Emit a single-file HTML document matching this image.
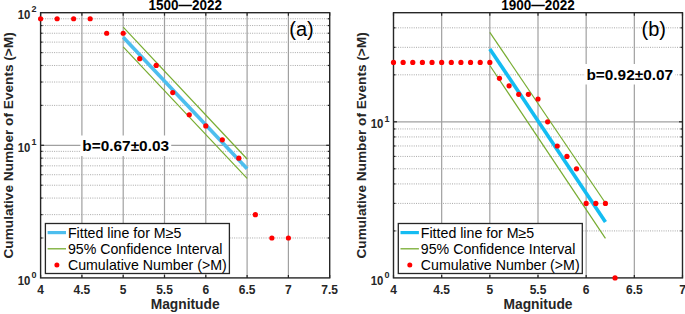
<!DOCTYPE html>
<html><head><meta charset="utf-8"><style>
html,body{margin:0;padding:0;background:#fff;}
body{width:685px;height:314px;overflow:hidden;}
svg{display:block;}
text{font-family:"Liberation Sans",sans-serif;fill:#000;}
.tk{font-size:12px;font-weight:bold;fill:#262626;}
.sup{font-size:9px;font-weight:bold;fill:#262626;}
.tk10{font-size:12px;font-weight:bold;fill:#262626;}
.axl{font-size:13.8px;font-weight:bold;fill:#262626;}
.yl{font-size:13.65px;font-weight:bold;fill:#262626;}
.ttl{font-size:13.5px;font-weight:bold;}
.b{font-size:15.4px;font-weight:bold;}
.leg{font-size:14.2px;}
.let{font-size:20px;}
</style></head><body>
<svg width="685" height="314" viewBox="0 0 685 314">
<rect width="685" height="314" fill="#fff"/>
<line x1="40.60" y1="237.98" x2="329.70" y2="237.98" stroke="#a8a8a8" stroke-width="1" stroke-dasharray="1 1.25"/>
<line x1="40.60" y1="214.63" x2="329.70" y2="214.63" stroke="#a8a8a8" stroke-width="1" stroke-dasharray="1 1.25"/>
<line x1="40.60" y1="198.07" x2="329.70" y2="198.07" stroke="#a8a8a8" stroke-width="1" stroke-dasharray="1 1.25"/>
<line x1="40.60" y1="185.22" x2="329.70" y2="185.22" stroke="#a8a8a8" stroke-width="1" stroke-dasharray="1 1.25"/>
<line x1="40.60" y1="174.72" x2="329.70" y2="174.72" stroke="#a8a8a8" stroke-width="1" stroke-dasharray="1 1.25"/>
<line x1="40.60" y1="165.84" x2="329.70" y2="165.84" stroke="#a8a8a8" stroke-width="1" stroke-dasharray="1 1.25"/>
<line x1="40.60" y1="158.15" x2="329.70" y2="158.15" stroke="#a8a8a8" stroke-width="1" stroke-dasharray="1 1.25"/>
<line x1="40.60" y1="151.37" x2="329.70" y2="151.37" stroke="#a8a8a8" stroke-width="1" stroke-dasharray="1 1.25"/>
<line x1="40.60" y1="105.38" x2="329.70" y2="105.38" stroke="#a8a8a8" stroke-width="1" stroke-dasharray="1 1.25"/>
<line x1="40.60" y1="82.03" x2="329.70" y2="82.03" stroke="#a8a8a8" stroke-width="1" stroke-dasharray="1 1.25"/>
<line x1="40.60" y1="65.47" x2="329.70" y2="65.47" stroke="#a8a8a8" stroke-width="1" stroke-dasharray="1 1.25"/>
<line x1="40.60" y1="52.62" x2="329.70" y2="52.62" stroke="#a8a8a8" stroke-width="1" stroke-dasharray="1 1.25"/>
<line x1="40.60" y1="42.12" x2="329.70" y2="42.12" stroke="#a8a8a8" stroke-width="1" stroke-dasharray="1 1.25"/>
<line x1="40.60" y1="33.24" x2="329.70" y2="33.24" stroke="#a8a8a8" stroke-width="1" stroke-dasharray="1 1.25"/>
<line x1="40.60" y1="25.55" x2="329.70" y2="25.55" stroke="#a8a8a8" stroke-width="1" stroke-dasharray="1 1.25"/>
<line x1="40.60" y1="18.77" x2="329.70" y2="18.77" stroke="#a8a8a8" stroke-width="1" stroke-dasharray="1 1.25"/>
<line x1="40.60" y1="145.30" x2="329.70" y2="145.30" stroke="#a0a0a0" stroke-width="1.2" />
<line x1="81.90" y1="12.70" x2="81.90" y2="277.90" stroke="#a0a0a0" stroke-width="1.2" />
<line x1="123.20" y1="12.70" x2="123.20" y2="277.90" stroke="#a0a0a0" stroke-width="1.2" />
<line x1="164.50" y1="12.70" x2="164.50" y2="277.90" stroke="#a0a0a0" stroke-width="1.2" />
<line x1="205.80" y1="12.70" x2="205.80" y2="277.90" stroke="#a0a0a0" stroke-width="1.2" />
<line x1="247.10" y1="12.70" x2="247.10" y2="277.90" stroke="#a0a0a0" stroke-width="1.2" />
<line x1="288.40" y1="12.70" x2="288.40" y2="277.90" stroke="#a0a0a0" stroke-width="1.2" />
<line x1="40.60" y1="277.90" x2="40.60" y2="274.90" stroke="#262626" stroke-width="1.2" />
<line x1="40.60" y1="12.70" x2="40.60" y2="15.70" stroke="#262626" stroke-width="1.2" />
<line x1="81.90" y1="277.90" x2="81.90" y2="274.90" stroke="#262626" stroke-width="1.2" />
<line x1="81.90" y1="12.70" x2="81.90" y2="15.70" stroke="#262626" stroke-width="1.2" />
<line x1="123.20" y1="277.90" x2="123.20" y2="274.90" stroke="#262626" stroke-width="1.2" />
<line x1="123.20" y1="12.70" x2="123.20" y2="15.70" stroke="#262626" stroke-width="1.2" />
<line x1="164.50" y1="277.90" x2="164.50" y2="274.90" stroke="#262626" stroke-width="1.2" />
<line x1="164.50" y1="12.70" x2="164.50" y2="15.70" stroke="#262626" stroke-width="1.2" />
<line x1="205.80" y1="277.90" x2="205.80" y2="274.90" stroke="#262626" stroke-width="1.2" />
<line x1="205.80" y1="12.70" x2="205.80" y2="15.70" stroke="#262626" stroke-width="1.2" />
<line x1="247.10" y1="277.90" x2="247.10" y2="274.90" stroke="#262626" stroke-width="1.2" />
<line x1="247.10" y1="12.70" x2="247.10" y2="15.70" stroke="#262626" stroke-width="1.2" />
<line x1="288.40" y1="277.90" x2="288.40" y2="274.90" stroke="#262626" stroke-width="1.2" />
<line x1="288.40" y1="12.70" x2="288.40" y2="15.70" stroke="#262626" stroke-width="1.2" />
<line x1="329.70" y1="277.90" x2="329.70" y2="274.90" stroke="#262626" stroke-width="1.2" />
<line x1="329.70" y1="12.70" x2="329.70" y2="15.70" stroke="#262626" stroke-width="1.2" />
<line x1="40.60" y1="237.98" x2="42.60" y2="237.98" stroke="#262626" stroke-width="1.2" />
<line x1="329.70" y1="237.98" x2="327.70" y2="237.98" stroke="#262626" stroke-width="1.2" />
<line x1="40.60" y1="214.63" x2="42.60" y2="214.63" stroke="#262626" stroke-width="1.2" />
<line x1="329.70" y1="214.63" x2="327.70" y2="214.63" stroke="#262626" stroke-width="1.2" />
<line x1="40.60" y1="198.07" x2="42.60" y2="198.07" stroke="#262626" stroke-width="1.2" />
<line x1="329.70" y1="198.07" x2="327.70" y2="198.07" stroke="#262626" stroke-width="1.2" />
<line x1="40.60" y1="185.22" x2="42.60" y2="185.22" stroke="#262626" stroke-width="1.2" />
<line x1="329.70" y1="185.22" x2="327.70" y2="185.22" stroke="#262626" stroke-width="1.2" />
<line x1="40.60" y1="174.72" x2="42.60" y2="174.72" stroke="#262626" stroke-width="1.2" />
<line x1="329.70" y1="174.72" x2="327.70" y2="174.72" stroke="#262626" stroke-width="1.2" />
<line x1="40.60" y1="165.84" x2="42.60" y2="165.84" stroke="#262626" stroke-width="1.2" />
<line x1="329.70" y1="165.84" x2="327.70" y2="165.84" stroke="#262626" stroke-width="1.2" />
<line x1="40.60" y1="158.15" x2="42.60" y2="158.15" stroke="#262626" stroke-width="1.2" />
<line x1="329.70" y1="158.15" x2="327.70" y2="158.15" stroke="#262626" stroke-width="1.2" />
<line x1="40.60" y1="151.37" x2="42.60" y2="151.37" stroke="#262626" stroke-width="1.2" />
<line x1="329.70" y1="151.37" x2="327.70" y2="151.37" stroke="#262626" stroke-width="1.2" />
<line x1="40.60" y1="145.30" x2="44.10" y2="145.30" stroke="#262626" stroke-width="1.2" />
<line x1="329.70" y1="145.30" x2="326.20" y2="145.30" stroke="#262626" stroke-width="1.2" />
<line x1="40.60" y1="105.38" x2="42.60" y2="105.38" stroke="#262626" stroke-width="1.2" />
<line x1="329.70" y1="105.38" x2="327.70" y2="105.38" stroke="#262626" stroke-width="1.2" />
<line x1="40.60" y1="82.03" x2="42.60" y2="82.03" stroke="#262626" stroke-width="1.2" />
<line x1="329.70" y1="82.03" x2="327.70" y2="82.03" stroke="#262626" stroke-width="1.2" />
<line x1="40.60" y1="65.47" x2="42.60" y2="65.47" stroke="#262626" stroke-width="1.2" />
<line x1="329.70" y1="65.47" x2="327.70" y2="65.47" stroke="#262626" stroke-width="1.2" />
<line x1="40.60" y1="52.62" x2="42.60" y2="52.62" stroke="#262626" stroke-width="1.2" />
<line x1="329.70" y1="52.62" x2="327.70" y2="52.62" stroke="#262626" stroke-width="1.2" />
<line x1="40.60" y1="42.12" x2="42.60" y2="42.12" stroke="#262626" stroke-width="1.2" />
<line x1="329.70" y1="42.12" x2="327.70" y2="42.12" stroke="#262626" stroke-width="1.2" />
<line x1="40.60" y1="33.24" x2="42.60" y2="33.24" stroke="#262626" stroke-width="1.2" />
<line x1="329.70" y1="33.24" x2="327.70" y2="33.24" stroke="#262626" stroke-width="1.2" />
<line x1="40.60" y1="25.55" x2="42.60" y2="25.55" stroke="#262626" stroke-width="1.2" />
<line x1="329.70" y1="25.55" x2="327.70" y2="25.55" stroke="#262626" stroke-width="1.2" />
<line x1="40.60" y1="18.77" x2="42.60" y2="18.77" stroke="#262626" stroke-width="1.2" />
<line x1="329.70" y1="18.77" x2="327.70" y2="18.77" stroke="#262626" stroke-width="1.2" />
<rect x="80.4" y="135.5" width="90.8" height="20.5" fill="#fff"/>
<text x="82.30" y="150.90" class="b" text-anchor="start" >b=0.67±0.03</text>
<line x1="123.20" y1="27.10" x2="247.10" y2="159.00" stroke="#77AC30" stroke-width="1.2"/>
<line x1="123.20" y1="46.80" x2="247.10" y2="178.30" stroke="#77AC30" stroke-width="1.2"/>
<line x1="123.20" y1="37.30" x2="247.10" y2="168.80" stroke="#4DBEEE" stroke-width="3.6"/>
<rect x="40.60" y="12.70" width="289.10" height="265.20" fill="none" stroke="#262626" stroke-width="1.4"/>
<circle cx="40.60" cy="18.77" r="2.6" fill="#ff0000"/>
<circle cx="57.12" cy="18.77" r="2.6" fill="#ff0000"/>
<circle cx="73.64" cy="18.77" r="2.6" fill="#ff0000"/>
<circle cx="90.16" cy="18.77" r="2.6" fill="#ff0000"/>
<circle cx="106.68" cy="33.24" r="2.6" fill="#ff0000"/>
<circle cx="123.20" cy="33.24" r="2.6" fill="#ff0000"/>
<circle cx="139.72" cy="58.68" r="2.6" fill="#ff0000"/>
<circle cx="156.24" cy="65.47" r="2.6" fill="#ff0000"/>
<circle cx="172.76" cy="92.53" r="2.6" fill="#ff0000"/>
<circle cx="189.28" cy="114.74" r="2.6" fill="#ff0000"/>
<circle cx="205.80" cy="125.92" r="2.6" fill="#ff0000"/>
<circle cx="222.32" cy="139.81" r="2.6" fill="#ff0000"/>
<circle cx="238.84" cy="158.15" r="2.6" fill="#ff0000"/>
<circle cx="255.36" cy="214.63" r="2.6" fill="#ff0000"/>
<circle cx="271.88" cy="237.98" r="2.6" fill="#ff0000"/>
<circle cx="288.40" cy="237.98" r="2.6" fill="#ff0000"/>
<text x="289.30" y="36.20" class="let" text-anchor="start" >(a)</text>
<text x="0" y="0" class="ttl" text-anchor="middle" transform="translate(185.15 9.5) scale(1 1.12)">1500—2022</text>
<text x="40.60" y="293.60" class="tk" text-anchor="middle" >4</text>
<text x="81.90" y="293.60" class="tk" text-anchor="middle" >4.5</text>
<text x="123.20" y="293.60" class="tk" text-anchor="middle" >5</text>
<text x="164.50" y="293.60" class="tk" text-anchor="middle" >5.5</text>
<text x="205.80" y="293.60" class="tk" text-anchor="middle" >6</text>
<text x="247.10" y="293.60" class="tk" text-anchor="middle" >6.5</text>
<text x="288.40" y="293.60" class="tk" text-anchor="middle" >7</text>
<text x="329.70" y="293.60" class="tk" text-anchor="middle" >7.5</text>
<text x="185.15" y="309.20" class="axl" text-anchor="middle" >Magnitude</text>
<text x="13.40" y="145.40" class="yl" text-anchor="middle" transform="rotate(-90 13.40 145.40)">Cumulative Number of Events (&gt;M)</text>
<text x="17.80" y="19.30" class="tk10" textLength="12.6" lengthAdjust="spacingAndGlyphs">10</text>
<text x="31.60" y="12.40" class="sup">2</text>
<text x="17.80" y="151.90" class="tk10" textLength="12.6" lengthAdjust="spacingAndGlyphs">10</text>
<text x="31.60" y="145.00" class="sup">1</text>
<text x="17.80" y="284.50" class="tk10" textLength="12.6" lengthAdjust="spacingAndGlyphs">10</text>
<text x="31.60" y="277.60" class="sup">0</text>
<rect x="45.40" y="223.50" width="184" height="50" fill="#fff" stroke="#262626" stroke-width="1.3"/>
<line x1="47.60" y1="232.60" x2="66.00" y2="232.60" stroke="#4DBEEE" stroke-width="3.2" />
<line x1="47.60" y1="248.80" x2="66.00" y2="248.80" stroke="#77AC30" stroke-width="1.3" />
<circle cx="56.90" cy="264.90" r="2.5" fill="#ff0000"/>
<text x="67.90" y="237.60" class="leg" text-anchor="start" >Fitted line for M≥5</text>
<text x="67.90" y="253.80" class="leg" text-anchor="start" >95% Confidence Interval</text>
<text x="67.90" y="269.90" class="leg" text-anchor="start" >Cumulative Number (&gt;M)</text>
<line x1="393.50" y1="230.91" x2="682.49" y2="230.91" stroke="#a8a8a8" stroke-width="1" stroke-dasharray="1 1.25"/>
<line x1="393.50" y1="203.42" x2="682.49" y2="203.42" stroke="#a8a8a8" stroke-width="1" stroke-dasharray="1 1.25"/>
<line x1="393.50" y1="183.92" x2="682.49" y2="183.92" stroke="#a8a8a8" stroke-width="1" stroke-dasharray="1 1.25"/>
<line x1="393.50" y1="168.79" x2="682.49" y2="168.79" stroke="#a8a8a8" stroke-width="1" stroke-dasharray="1 1.25"/>
<line x1="393.50" y1="156.43" x2="682.49" y2="156.43" stroke="#a8a8a8" stroke-width="1" stroke-dasharray="1 1.25"/>
<line x1="393.50" y1="145.98" x2="682.49" y2="145.98" stroke="#a8a8a8" stroke-width="1" stroke-dasharray="1 1.25"/>
<line x1="393.50" y1="136.93" x2="682.49" y2="136.93" stroke="#a8a8a8" stroke-width="1" stroke-dasharray="1 1.25"/>
<line x1="393.50" y1="128.95" x2="682.49" y2="128.95" stroke="#a8a8a8" stroke-width="1" stroke-dasharray="1 1.25"/>
<line x1="393.50" y1="74.82" x2="682.49" y2="74.82" stroke="#a8a8a8" stroke-width="1" stroke-dasharray="1 1.25"/>
<line x1="393.50" y1="47.33" x2="682.49" y2="47.33" stroke="#a8a8a8" stroke-width="1" stroke-dasharray="1 1.25"/>
<line x1="393.50" y1="27.83" x2="682.49" y2="27.83" stroke="#a8a8a8" stroke-width="1" stroke-dasharray="1 1.25"/>
<line x1="393.50" y1="121.81" x2="682.49" y2="121.81" stroke="#a0a0a0" stroke-width="1.2" />
<line x1="441.67" y1="12.70" x2="441.67" y2="277.90" stroke="#a0a0a0" stroke-width="1.2" />
<line x1="489.83" y1="12.70" x2="489.83" y2="277.90" stroke="#a0a0a0" stroke-width="1.2" />
<line x1="538.00" y1="12.70" x2="538.00" y2="277.90" stroke="#a0a0a0" stroke-width="1.2" />
<line x1="586.16" y1="12.70" x2="586.16" y2="277.90" stroke="#a0a0a0" stroke-width="1.2" />
<line x1="634.33" y1="12.70" x2="634.33" y2="277.90" stroke="#a0a0a0" stroke-width="1.2" />
<line x1="393.50" y1="277.90" x2="393.50" y2="274.90" stroke="#262626" stroke-width="1.2" />
<line x1="393.50" y1="12.70" x2="393.50" y2="15.70" stroke="#262626" stroke-width="1.2" />
<line x1="441.67" y1="277.90" x2="441.67" y2="274.90" stroke="#262626" stroke-width="1.2" />
<line x1="441.67" y1="12.70" x2="441.67" y2="15.70" stroke="#262626" stroke-width="1.2" />
<line x1="489.83" y1="277.90" x2="489.83" y2="274.90" stroke="#262626" stroke-width="1.2" />
<line x1="489.83" y1="12.70" x2="489.83" y2="15.70" stroke="#262626" stroke-width="1.2" />
<line x1="538.00" y1="277.90" x2="538.00" y2="274.90" stroke="#262626" stroke-width="1.2" />
<line x1="538.00" y1="12.70" x2="538.00" y2="15.70" stroke="#262626" stroke-width="1.2" />
<line x1="586.16" y1="277.90" x2="586.16" y2="274.90" stroke="#262626" stroke-width="1.2" />
<line x1="586.16" y1="12.70" x2="586.16" y2="15.70" stroke="#262626" stroke-width="1.2" />
<line x1="634.33" y1="277.90" x2="634.33" y2="274.90" stroke="#262626" stroke-width="1.2" />
<line x1="634.33" y1="12.70" x2="634.33" y2="15.70" stroke="#262626" stroke-width="1.2" />
<line x1="682.49" y1="277.90" x2="682.49" y2="274.90" stroke="#262626" stroke-width="1.2" />
<line x1="682.49" y1="12.70" x2="682.49" y2="15.70" stroke="#262626" stroke-width="1.2" />
<line x1="393.50" y1="230.91" x2="395.50" y2="230.91" stroke="#262626" stroke-width="1.2" />
<line x1="682.49" y1="230.91" x2="680.49" y2="230.91" stroke="#262626" stroke-width="1.2" />
<line x1="393.50" y1="203.42" x2="395.50" y2="203.42" stroke="#262626" stroke-width="1.2" />
<line x1="682.49" y1="203.42" x2="680.49" y2="203.42" stroke="#262626" stroke-width="1.2" />
<line x1="393.50" y1="183.92" x2="395.50" y2="183.92" stroke="#262626" stroke-width="1.2" />
<line x1="682.49" y1="183.92" x2="680.49" y2="183.92" stroke="#262626" stroke-width="1.2" />
<line x1="393.50" y1="168.79" x2="395.50" y2="168.79" stroke="#262626" stroke-width="1.2" />
<line x1="682.49" y1="168.79" x2="680.49" y2="168.79" stroke="#262626" stroke-width="1.2" />
<line x1="393.50" y1="156.43" x2="395.50" y2="156.43" stroke="#262626" stroke-width="1.2" />
<line x1="682.49" y1="156.43" x2="680.49" y2="156.43" stroke="#262626" stroke-width="1.2" />
<line x1="393.50" y1="145.98" x2="395.50" y2="145.98" stroke="#262626" stroke-width="1.2" />
<line x1="682.49" y1="145.98" x2="680.49" y2="145.98" stroke="#262626" stroke-width="1.2" />
<line x1="393.50" y1="136.93" x2="395.50" y2="136.93" stroke="#262626" stroke-width="1.2" />
<line x1="682.49" y1="136.93" x2="680.49" y2="136.93" stroke="#262626" stroke-width="1.2" />
<line x1="393.50" y1="128.95" x2="395.50" y2="128.95" stroke="#262626" stroke-width="1.2" />
<line x1="682.49" y1="128.95" x2="680.49" y2="128.95" stroke="#262626" stroke-width="1.2" />
<line x1="393.50" y1="121.81" x2="397.00" y2="121.81" stroke="#262626" stroke-width="1.2" />
<line x1="682.49" y1="121.81" x2="678.99" y2="121.81" stroke="#262626" stroke-width="1.2" />
<line x1="393.50" y1="74.82" x2="395.50" y2="74.82" stroke="#262626" stroke-width="1.2" />
<line x1="682.49" y1="74.82" x2="680.49" y2="74.82" stroke="#262626" stroke-width="1.2" />
<line x1="393.50" y1="47.33" x2="395.50" y2="47.33" stroke="#262626" stroke-width="1.2" />
<line x1="682.49" y1="47.33" x2="680.49" y2="47.33" stroke="#262626" stroke-width="1.2" />
<line x1="393.50" y1="27.83" x2="395.50" y2="27.83" stroke="#262626" stroke-width="1.2" />
<line x1="682.49" y1="27.83" x2="680.49" y2="27.83" stroke="#262626" stroke-width="1.2" />
<rect x="584.6" y="64" width="90.8" height="20.5" fill="#fff"/>
<text x="586.40" y="80.40" class="b" text-anchor="start" >b=0.92±0.07</text>
<line x1="489.83" y1="32.40" x2="605.43" y2="203.00" stroke="#77AC30" stroke-width="1.2"/>
<line x1="489.83" y1="65.50" x2="605.43" y2="238.40" stroke="#77AC30" stroke-width="1.2"/>
<line x1="489.83" y1="48.90" x2="605.43" y2="221.90" stroke="#14bcf2" stroke-width="3.6"/>
<rect x="393.50" y="12.70" width="288.99" height="265.20" fill="none" stroke="#262626" stroke-width="1.4"/>
<circle cx="393.50" cy="62.46" r="2.6" fill="#ff0000"/>
<circle cx="403.13" cy="62.46" r="2.6" fill="#ff0000"/>
<circle cx="412.77" cy="62.46" r="2.6" fill="#ff0000"/>
<circle cx="422.40" cy="62.46" r="2.6" fill="#ff0000"/>
<circle cx="432.03" cy="62.46" r="2.6" fill="#ff0000"/>
<circle cx="441.67" cy="62.46" r="2.6" fill="#ff0000"/>
<circle cx="451.30" cy="62.46" r="2.6" fill="#ff0000"/>
<circle cx="460.93" cy="62.46" r="2.6" fill="#ff0000"/>
<circle cx="470.56" cy="62.46" r="2.6" fill="#ff0000"/>
<circle cx="480.20" cy="62.46" r="2.6" fill="#ff0000"/>
<circle cx="489.83" cy="62.46" r="2.6" fill="#ff0000"/>
<circle cx="499.46" cy="78.29" r="2.6" fill="#ff0000"/>
<circle cx="509.10" cy="85.83" r="2.6" fill="#ff0000"/>
<circle cx="518.73" cy="94.32" r="2.6" fill="#ff0000"/>
<circle cx="528.36" cy="94.32" r="2.6" fill="#ff0000"/>
<circle cx="538.00" cy="99.00" r="2.6" fill="#ff0000"/>
<circle cx="547.63" cy="121.81" r="2.6" fill="#ff0000"/>
<circle cx="557.26" cy="145.98" r="2.6" fill="#ff0000"/>
<circle cx="566.89" cy="156.43" r="2.6" fill="#ff0000"/>
<circle cx="576.53" cy="168.79" r="2.6" fill="#ff0000"/>
<circle cx="586.16" cy="203.42" r="2.6" fill="#ff0000"/>
<circle cx="595.79" cy="203.42" r="2.6" fill="#ff0000"/>
<circle cx="605.43" cy="203.42" r="2.6" fill="#ff0000"/>
<circle cx="615.06" cy="277.90" r="2.6" fill="#ff0000"/>
<text x="641.50" y="36.20" class="let" text-anchor="start" >(b)</text>
<text x="0" y="0" class="ttl" text-anchor="middle" transform="translate(538.00 9.5) scale(1 1.12)">1900—2022</text>
<text x="393.50" y="293.60" class="tk" text-anchor="middle" >4</text>
<text x="441.67" y="293.60" class="tk" text-anchor="middle" >4.5</text>
<text x="489.83" y="293.60" class="tk" text-anchor="middle" >5</text>
<text x="538.00" y="293.60" class="tk" text-anchor="middle" >5.5</text>
<text x="586.16" y="293.60" class="tk" text-anchor="middle" >6</text>
<text x="634.33" y="293.60" class="tk" text-anchor="middle" >6.5</text>
<text x="682.49" y="293.60" class="tk" text-anchor="middle" >7</text>
<text x="538.00" y="309.20" class="axl" text-anchor="middle" >Magnitude</text>
<text x="366.40" y="145.40" class="yl" text-anchor="middle" transform="rotate(-90 366.40 145.40)">Cumulative Number of Events (&gt;M)</text>
<text x="370.70" y="128.41" class="tk10" textLength="12.6" lengthAdjust="spacingAndGlyphs">10</text>
<text x="384.50" y="121.51" class="sup">1</text>
<text x="370.70" y="284.50" class="tk10" textLength="12.6" lengthAdjust="spacingAndGlyphs">10</text>
<text x="384.50" y="277.60" class="sup">0</text>
<rect x="398.30" y="223.50" width="184" height="50" fill="#fff" stroke="#262626" stroke-width="1.3"/>
<line x1="400.50" y1="232.60" x2="418.90" y2="232.60" stroke="#14bcf2" stroke-width="3.2" />
<line x1="400.50" y1="248.80" x2="418.90" y2="248.80" stroke="#77AC30" stroke-width="1.3" />
<circle cx="409.80" cy="264.90" r="2.5" fill="#ff0000"/>
<text x="420.80" y="237.60" class="leg" text-anchor="start" >Fitted line for M≥5</text>
<text x="420.80" y="253.80" class="leg" text-anchor="start" >95% Confidence Interval</text>
<text x="420.80" y="269.90" class="leg" text-anchor="start" >Cumulative Number (&gt;M)</text>
</svg></body></html>
